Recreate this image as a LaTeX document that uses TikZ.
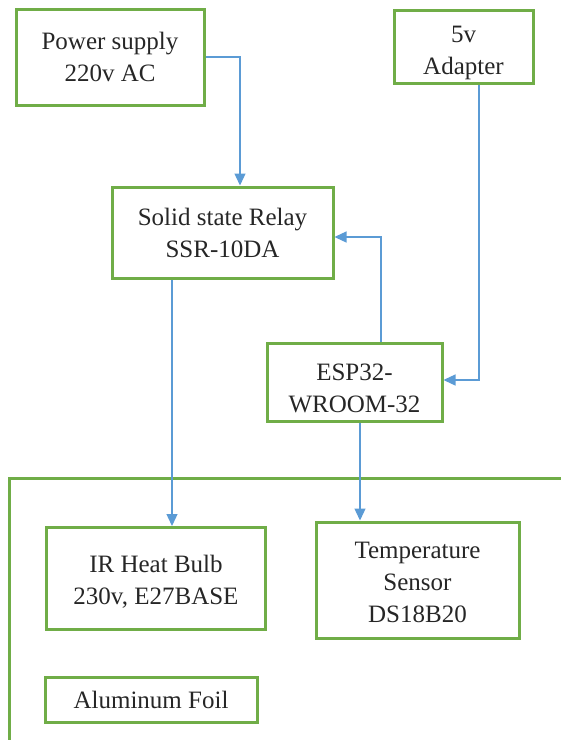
\documentclass[tikz,border=0pt]{standalone}
\usepackage{fontspec}
\setmainfont{Liberation Serif}
\usetikzlibrary{arrows.meta,calc}
\definecolor{boxgreen}{RGB}{112,173,71}
\definecolor{wireblue}{RGB}{91,155,213}
\begin{document}
\begin{tikzpicture}[x=1pt,y=-1pt,
  txt/.style={font=\fontsize{25}{32}\selectfont,text=black!85,align=center},
  blk/.style={txt,draw=boxgreen,line width=3pt,inner sep=0pt},
  wire/.style={draw=wireblue,line width=1.3pt},
  arr/.style={wire,-{Triangle[length=12pt,width=11pt]}}]
\useasboundingbox (0,0) rectangle (561,740);
\node[blk,minimum width=188pt,minimum height=96pt] (ps) at (110,57) {Power supply\\220v AC};
\node[blk,minimum width=139pt,minimum height=73pt] (ad) at (463.5,46.5) {};
\node[txt] (adt) at (463.5,53) {5v\\Adapter};
\node[blk,minimum width=221pt,minimum height=91pt] (ssr) at (222.5,232.5) {Solid state Relay\\SSR-10DA};
\node[blk,minimum width=175pt,minimum height=78pt] (esp) at (354.5,382) {};
\node[txt] (espt) at (354.5,388) {ESP32-\\WROOM-32};
\node[blk,minimum width=219pt,minimum height=102pt] (ir) at (156,578.5) {};
\node[txt] (irt) at (156,581.5) {IR Heat Bulb\\230v, E27BASE};
\node[blk,minimum width=203pt,minimum height=116pt] (ts) at (417.5,580) {};
\node[txt] (tst) at (417.5,582) {Temperature\\Sensor\\DS18B20};
\node[blk,minimum width=212pt,minimum height=45pt] (al) at (151,699.5) {Aluminum Foil};
\draw[boxgreen,line width=3pt] (562,478) -- (9,478) -- (9,742);
\coordinate (c1) at (240,0);
\coordinate (c2) at (479,0);
\coordinate (c3) at (381,0);
\coordinate (c4) at (172,0);
\coordinate (c5) at (360,0);
\draw[arr] (ps.east) -| (ssr.north -| c1);
\draw[arr] (ad.south -| c2) |- ($(esp.east)+(0,-2)$);
\draw[arr] (esp.north -| c3) |- ($(ssr.east)+(0,4.5)$);
\draw[arr] (ssr.south -| c4) -- (ir.north -| c4);
\draw[arr] (esp.south -| c5) -- (ts.north -| c5);
\end{tikzpicture}
\end{document}
